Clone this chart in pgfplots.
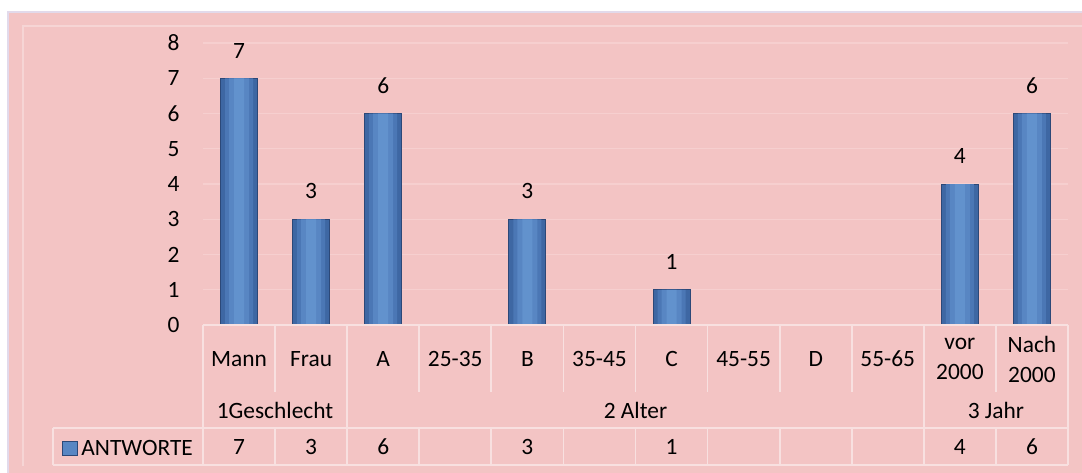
\documentclass[border=0pt]{standalone}
\usepackage{fontspec}
\setmainfont{Carlito}
\usepackage{pgfplots}
\usepackage{pgfplotstable}
\pgfplotsset{compat=1.18}

\definecolor{bgpink}{RGB}{243,196,196}
\definecolor{gridpink}{RGB}{246,207,207}
\definecolor{linepink}{RGB}{248,224,224}
\definecolor{edgelav}{RGB}{226,218,235}
\definecolor{bar1}{RGB}{62,103,163}
\definecolor{bar2}{RGB}{75,119,181}
\definecolor{bar3}{RGB}{88,134,195}
\definecolor{bar4}{RGB}{98,146,205}
\definecolor{barEdge}{RGB}{44,72,120}

% answers per category (empty categories left out)
\pgfplotstableread{
x    y
0.5  7
1.5  3
2.5  6
4.5  3
6.5  1
10.5 4
11.5 6
}\antworte

\begin{document}
\fontsize{11.7}{14.5}\selectfont
\begin{tikzpicture}
% background, in pixel units
\begin{scope}[x=0.5pt,y=-0.5pt]
  \fill[white] (0,0) rectangle (1082,472);
  \filldraw[fill=bgpink, draw=edgelav, line width=0.8pt] (8,12) rectangle (1095,485);
  \draw[linepink!60!bgpink, line width=1pt] (23,466) -- (23,26) -- (1095,26);
\end{scope}

\begin{axis}[
  at={(101.5pt,-162.5pt)}, anchor=south west,
  scale only axis, width=432.5pt, height=141pt,
  xmin=0, xmax=12, ymin=0, ymax=8,
  xtick={0.5,1.5,2.5,3.5,4.5,5.5,6.5,7.5,8.5,9.5,10.5,11.5},
  xticklabels={Mann,Frau,A,25-35,B,35-45,C,45-55,D,55-65,{vor\\2000},{Nach\\2000}},
  xticklabel style={anchor=center, yshift=-17pt, align=center,
    font=\fontsize{11.7}{15}\selectfont},
  ytick={0,1,...,8},
  yticklabel style={xshift=-7.6pt},
  major tick length=0pt,
  axis line style={draw=none},
  ymajorgrids, grid style={gridpink, line width=0.6pt},
  clip=false,
  /pgf/number format/assume math mode=true,
]
% bars, drawn in layers to imitate the rounded shading
\addplot[ybar, bar width=18.5pt, fill=bar1, draw=barEdge, line width=0.4pt,
  nodes near coords,
  every node near coord/.append style={yshift=6pt, text=black}]
  table[x=x, y=y] {\antworte};
\addplot[ybar, bar width=14pt, fill=bar2, draw=none]
  table[x=x, y=y] {\antworte};
\addplot[ybar, bar width=10pt, fill=bar3, draw=none]
  table[x=x, y=y] {\antworte};
\addplot[ybar, bar width=5pt, fill=bar4, draw=none]
  table[x=x, y=y] {\antworte};
% values repeated in the data table row
\addplot[draw=none, mark=none, nodes near coords, point meta=explicit,
  every node near coord/.append style={anchor=center, text=black}]
  table[x=x, y expr=-3.46, meta=y] {\antworte};
\end{axis}

% data table below the axis
\begin{scope}[x=0.5pt,y=-0.5pt]
  \begin{scope}[draw=linepink, line width=0.9pt]
    \draw (203,325) -- (1068,325);
    \draw (53,428) -- (1068,428);
    \draw (53,465) -- (1068,465);
    \draw (53,428) -- (53,465);
    \foreach \k in {0,2,10,12}
      \draw ({203+72.083*\k},325) -- ({203+72.083*\k},465);
    \foreach \k in {1,3,4,5,6,7,8,9,11} {
      \draw ({203+72.083*\k},325) -- ({203+72.083*\k},392);
      \draw ({203+72.083*\k},428) -- ({203+72.083*\k},465);
    }
  \end{scope}
  \node at (275,410) {1Geschlecht};
  \node at (635.5,410) {2 Alter};
  \node at (995.9,410) {3 Jahr};
  \filldraw[fill=bar3, draw=barEdge, line width=0.3pt] (62,441) rectangle (77,455);
  \node[anchor=west, inner sep=0pt] at (81,448) {ANTWORTE};
\end{scope}

\pgfresetboundingbox
\path (0,0) rectangle (541pt,-236pt);
\end{tikzpicture}
\end{document}
